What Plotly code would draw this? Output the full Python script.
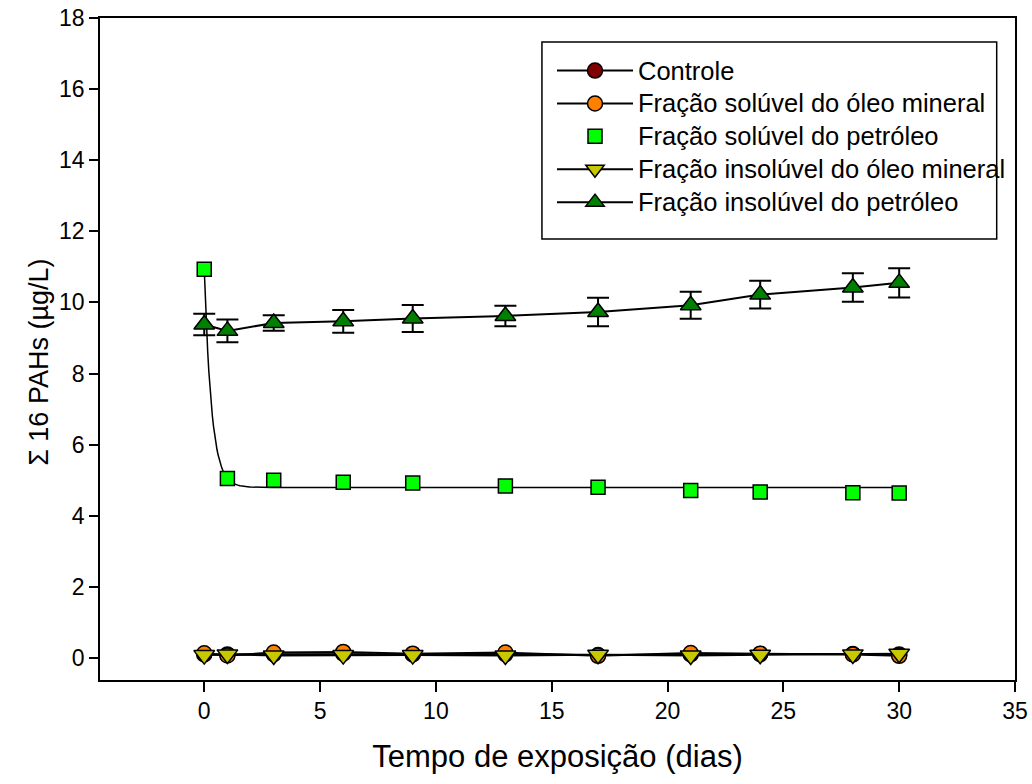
import numpy as np
import plotly.graph_objects as go

# ---------------- data ----------------
days = [0, 1, 3, 6, 9, 13, 17, 21, 24, 28, 30]

controle = [0.10, 0.10, 0.11, 0.12, 0.10, 0.11, 0.08, 0.10, 0.11, 0.11, 0.10]
sol_oleo = [0.13, 0.07, 0.15, 0.17, 0.12, 0.15, 0.06, 0.14, 0.12, 0.10, 0.06]
sol_petroleo = [10.93, 5.05, 5.00, 4.94, 4.92, 4.84, 4.80, 4.71, 4.67, 4.65, 4.64]
insol_oleo = [0.08, 0.10, 0.07, 0.08, 0.08, 0.07, 0.09, 0.07, 0.09, 0.10, 0.12]
insol_petroleo = [9.38, 9.20, 9.42, 9.47, 9.55, 9.62, 9.73, 9.92, 10.22, 10.42, 10.55]
insol_petroleo_err = [0.30, 0.32, 0.22, 0.32, 0.38, 0.29, 0.40, 0.38, 0.39, 0.40, 0.41]

names = [
    "Controle",
    "Fração solúvel do óleo mineral",
    "Fração solúvel do petróleo",
    "Fração insolúvel do óleo mineral",
    "Fração insolúvel do petróleo",
]
x_title = "Tempo de exposição (dias)"
y_title = "Σ 16 PAHs (µg/L)"
x_ticks = [0, 5, 10, 15, 20, 25, 30, 35]
y_ticks = [0, 2, 4, 6, 8, 10, 12, 14, 16, 18]

# ------------- exponential decay regression for soluble petroleum fraction -------------
xd = np.array(days, dtype=float)
yd = np.array(sol_petroleo, dtype=float)
best = None
for k in np.arange(0.05, 10.0, 0.01):
    A = np.column_stack([np.ones_like(xd), np.exp(-k * xd)])
    coef, *_ = np.linalg.lstsq(A, yd, rcond=None)
    sse = float(np.sum((A @ coef - yd) ** 2))
    if best is None or sse < best[0]:
        best = (sse, k, coef)
_, k_fit, (y0_fit, a_fit) = best
x_fit = np.linspace(0, max(days), 601)
y_fit = y0_fit + a_fit * np.exp(-k_fit * x_fit)

# ---------------- figure ----------------
LEGEND_TEXT_SIZE = 25.5


def leg(name):
    return f'<span style="font-size:{LEGEND_TEXT_SIZE}px">{name}</span>'


fig = go.Figure()
line_style = dict(color="black", width=2)
outline = dict(color="black", width=1.5)

fig.add_trace(go.Scatter(
    x=days, y=controle, name=leg(names[0]), mode="lines+markers", legendgroup="a",
    line=line_style,
    marker=dict(symbol="circle", size=15, color="#800000", line=outline)))

fig.add_trace(go.Scatter(
    x=days, y=sol_oleo, name=leg(names[1]), mode="lines+markers", legendgroup="b",
    line=line_style,
    marker=dict(symbol="circle", size=15, color="#ff8000", line=outline)))

fig.add_trace(go.Scatter(
    x=x_fit, y=y_fit, mode="lines", showlegend=False, hoverinfo="skip",
    line=dict(color="black", width=1.5)))

fig.add_trace(go.Scatter(
    x=days, y=sol_petroleo, name=leg(names[2]), mode="markers", legendgroup="c",
    marker=dict(symbol="square", size=14, color="#00ff00", line=outline)))

fig.add_trace(go.Scatter(
    x=days, y=insol_oleo, name=leg(names[3]), mode="lines+markers", legendgroup="d",
    line=line_style,
    marker=dict(symbol="triangle-down", size=18, color="#c8c800", line=outline)))

fig.add_trace(go.Scatter(
    x=days, y=insol_petroleo, name=leg(names[4]), mode="lines+markers", legendgroup="e",
    line=line_style,
    error_y=dict(type="data", array=insol_petroleo_err, visible=True,
                 color="black", thickness=2, width=11),
    marker=dict(symbol="triangle-up", size=18, color="#008000", line=outline)))

font_family = "Liberation Sans, Arial, sans-serif"

fig.update_layout(
    width=1032, height=784,
    paper_bgcolor="white", plot_bgcolor="white",
    margin=dict(l=100, r=17, t=18, b=104, autoexpand=False),
    font=dict(family=font_family, size=23, color="black"),
    showlegend=True,
    legend=dict(
        x=0.494, y=0.953, xanchor="left", yanchor="top",
        bgcolor="rgba(0,0,0,0)", borderwidth=0,
        font=dict(size=23, color="black"),
        tracegroupgap=0, itemwidth=76,
    ),
    shapes=[dict(
        type="rect", xref="paper", yref="paper",
        x0=0.483, x1=0.980, y0=0.666, y1=0.9637,
        line=dict(color="black", width=1.5), fillcolor="rgba(0,0,0,0)",
        layer="below",
    )],
    annotations=[dict(
        text=y_title, xref="paper", yref="paper",
        x=-0.066, y=0.48, xanchor="center", yanchor="middle",
        textangle=-90, showarrow=False, font=dict(size=27, color="black"),
    )],
)

fig.update_xaxes(
    range=[-4.5, 35], tickvals=x_ticks, ticktext=[str(v) for v in x_ticks],
    showgrid=False, zeroline=False, automargin=False,
    showline=True, linecolor="black", linewidth=1.5, mirror=True,
    ticks="outside", ticklen=10, tickwidth=1.5, tickcolor="black",
    tickfont=dict(size=23), ticklabeloverflow="allow",
    title=dict(text=x_title, font=dict(size=31), standoff=22),
)
fig.update_yaxes(
    range=[-0.62, 18], tickvals=y_ticks, ticktext=[str(v) for v in y_ticks],
    showgrid=False, zeroline=False, automargin=False,
    showline=True, linecolor="black", linewidth=1.5, mirror=True,
    ticks="outside", ticklen=9, tickwidth=1.5, tickcolor="black",
    tickfont=dict(size=23), ticklabeloverflow="allow",
)

fig.write_html(
    "out.html",
    config={"displayModeBar": False},
    post_script="document.body.style.margin='0';document.body.style.overflow='hidden';",
)
